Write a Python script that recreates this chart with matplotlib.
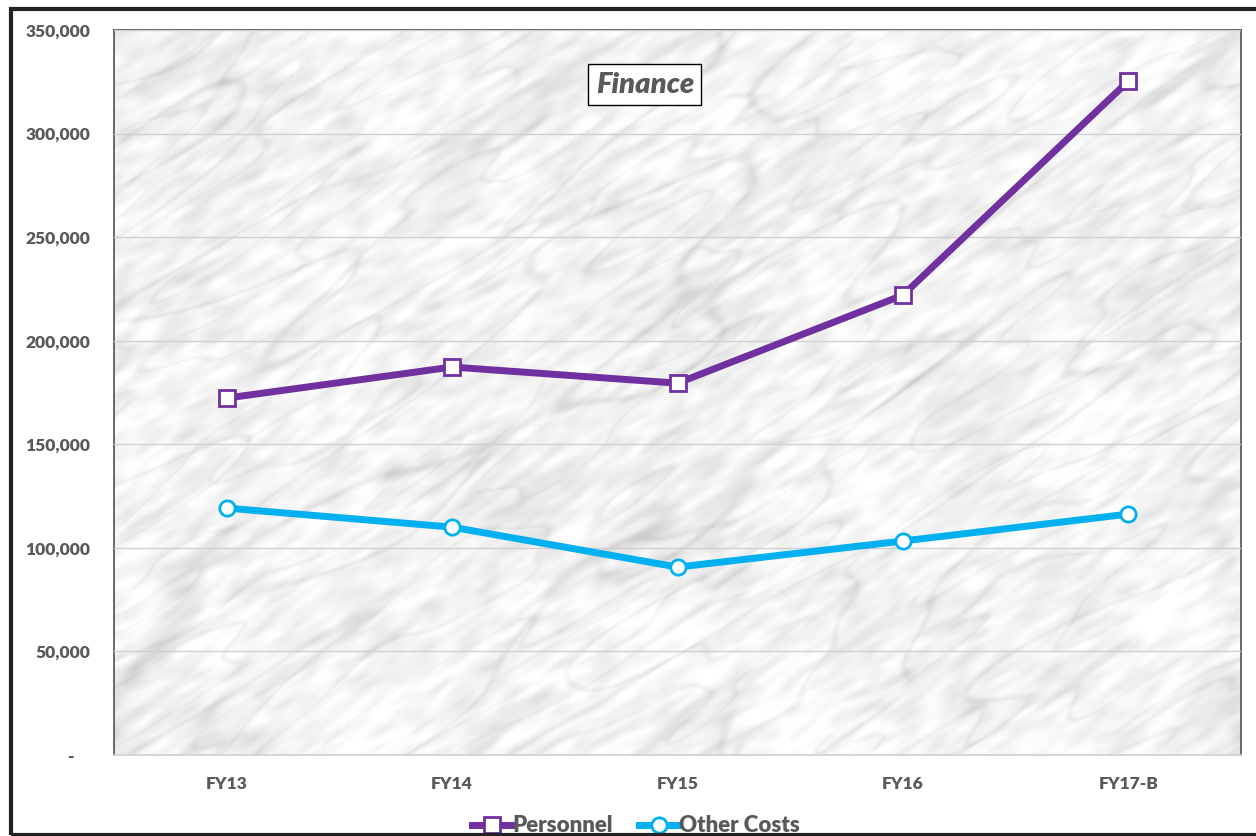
"""
Finance cost chart: Personnel vs Other Costs, FY13 - FY17-B.
"""

import numpy as np
import matplotlib.pyplot as plt
import matplotlib.ticker as mticker
from matplotlib.patches import Rectangle
from matplotlib.lines import Line2D

# ─── Data ─────────────────────────────────────────────────────────────────────
YEARS = ["FY13", "FY14", "FY15", "FY16", "FY17-B"]
PERSONNEL = [172300, 187300, 179500, 222000, 325300]
OTHER_COSTS = [119200, 110000, 90700, 103300, 116300]
Y_TICKS = [0, 50000, 100000, 150000, 200000, 250000, 300000, 350000]

PURPLE = "#7030A0"
BLUE = "#00B0F0"
GREY_TXT = "#595959"
FONT = ["Lato", "DejaVu Sans"]
# ──────────────────────────────────────────────────────────────────────────────


def streaky(noise, along, across):
    """Smooth noise anisotropically: long along the diagonal, short across it."""
    h, w = noise.shape
    fy = np.fft.fftfreq(h)[:, None]
    fx = np.fft.fftfreq(w)[None, :]
    c, s = np.cos(np.radians(32)), np.sin(np.radians(32))
    k_par = fx * c - fy * s
    k_perp = fx * s + fy * c
    filt = np.exp(-(k_par**2) * along - (k_perp**2) * across)
    out = np.real(np.fft.ifft2(np.fft.fft2(noise) * filt))
    return out / out.std()


def marble_texture(h=363, w=564, seed=7):
    """Light grey marble-ish background (decoration only)."""
    rng = np.random.default_rng(seed)
    big = streaky(rng.standard_normal((h, w)), 40000, 1500)
    mid = streaky(rng.standard_normal((h, w)), 12000, 400)
    grain = streaky(rng.standard_normal((h, w)), 400, 40)
    cloud = streaky(rng.standard_normal((h, w)), 6000, 6000)
    veins = np.exp(-(big / 0.10) ** 2) * 0.06 + np.exp(-(mid / 0.10) ** 2) * 0.05
    val = 0.955 - veins - 0.022 * grain - 0.012 * cloud
    return np.clip(val, 0.72, 1.0)


def main():
    fig = plt.figure(figsize=(12.56, 8.36), dpi=100)
    W, H = 1256, 836
    ax = fig.add_axes([114 / W, 1 - 755 / H, (1241 - 114) / W, (755 - 30) / H])

    x = np.arange(len(YEARS))
    ax.set_xlim(-0.5, len(YEARS) - 0.5)
    ax.set_ylim(0, 350000)

    ax.imshow(marble_texture(), cmap="gray", vmin=0, vmax=1, aspect="auto",
              extent=(-0.5, len(YEARS) - 0.5, 0, 350000), zorder=0,
              interpolation="bilinear")

    ax.plot(x, PERSONNEL, color=PURPLE, linewidth=5, marker="s", markersize=11,
            markerfacecolor="white", markeredgecolor=PURPLE, markeredgewidth=2,
            label="Personnel", zorder=4, solid_joinstyle="round")
    ax.plot(x, OTHER_COSTS, color=BLUE, linewidth=5, marker="o", markersize=11,
            markerfacecolor="white", markeredgecolor=BLUE, markeredgewidth=2,
            label="Other Costs", zorder=4, solid_joinstyle="round")

    ax.set_yticks(Y_TICKS)
    ax.yaxis.set_major_formatter(mticker.FuncFormatter(
        lambda v, p: "-    " if v == 0 else f"{int(v):,}"))
    ax.set_xticks(x)
    ax.set_xticklabels(YEARS)
    ax.tick_params(axis="both", length=0, colors=GREY_TXT, labelsize=12.5)
    ax.tick_params(axis="y", pad=17)
    ax.tick_params(axis="x", pad=15)
    for lbl in ax.get_xticklabels() + ax.get_yticklabels():
        lbl.set_family(FONT)
        lbl.set_fontweight("heavy")

    ax.grid(axis="y", color="#d0d0d0", linewidth=1, zorder=1)
    ax.set_axisbelow(False)
    for side in ["left", "top", "right"]:
        ax.spines[side].set_color("#505050")
        ax.spines[side].set_linewidth(1.2)
    ax.spines["bottom"].set_color("#d0d0d0")
    ax.spines["bottom"].set_linewidth(1.2)

    ax.text(0.471, 0.9245, "Finance", transform=ax.transAxes, ha="center", va="center",
            fontsize=21, fontweight="heavy", style="italic", color=GREY_TXT,
            family=FONT, zorder=6,
            bbox=dict(boxstyle="square,pad=0.25", facecolor="white",
                      edgecolor="black", linewidth=1))

    handles = [
        Line2D([], [], color=PURPLE, linewidth=5, marker="s", markersize=11,
               markerfacecolor="white", markeredgecolor=PURPLE, markeredgewidth=2),
        Line2D([], [], color=BLUE, linewidth=5, marker="o", markersize=11,
               markerfacecolor="white", markeredgecolor=BLUE, markeredgewidth=2),
    ]
    leg = fig.legend(handles, ["Personnel", "Other Costs"], loc="center",
                     bbox_to_anchor=(636 / W, 1 - 826 / H), ncol=2, frameon=False,
                     handlelength=1.8, handletextpad=0.0, columnspacing=1.2,
                     prop={"family": FONT, "weight": "heavy", "size": 16})
    for t in leg.get_texts():
        t.set_color(GREY_TXT)

    # outer chart frame (right edge runs past the image)
    fig.add_artist(Rectangle((11 / W, 1 / H), 1.2, 1 - 10 / H, transform=fig.transFigure,
                             fill=False, edgecolor="#222222", linewidth=3, zorder=10))

    fig.savefig("out.png", dpi=100)


if __name__ == "__main__":
    main()
